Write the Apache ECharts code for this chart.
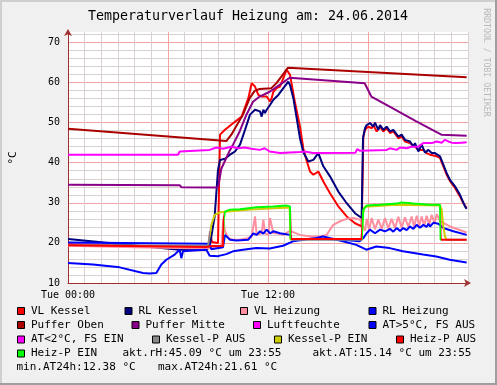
<!DOCTYPE html>
<html><head><meta charset="utf-8">
<script src="https://cdn.jsdelivr.net/npm/echarts@6/dist/echarts.min.js"></script>
<style>html,body{margin:0;padding:0;background:#f0f0f0}#c{width:497px;height:385px}</style>
</head><body><div id="c"></div>
<script>
// ---- data: [hour of day, value] ----
const vlKessel = [[0,19.6],[3.7,19.3],[6.6,19.0],[6.8,18.7],[8.3,18.6],[8.46,18.8],[8.52,22.8],[8.64,20.2],[9.0,20.0],[9.12,47.0],[9.42,48.2],[9.92,49.9],[10.42,51.5],[10.82,56.1],[11.02,59.8],[11.12,60.2],[11.22,59.0],[11.42,56.9],[11.62,56.5],[11.92,56.5],[12.12,55.3],[12.22,56.1],[12.32,57.7],[12.52,58.6],[12.72,59.0],[13.12,63.2],[13.22,63.6],[13.32,61.9],[13.62,55.0],[13.92,49.0],[14.12,43.5],[14.32,40.5],[14.52,37.8],[14.72,37.0],[15.02,37.8],[15.32,35.3],[15.72,32.4],[16.22,29.1],[16.72,26.6],[17.22,24.9],[17.62,24.1],[17.72,46.5],[17.82,48.2],[18.02,49.0],[18.22,48.6],[18.32,49.4],[18.52,47.8],[18.72,49.0],[18.92,47.8],[19.12,48.6],[19.32,47.4],[19.52,47.8],[19.82,46.1],[20.02,46.5],[20.22,45.3],[20.52,44.9],[20.82,44.0],[21.02,43.2],[21.32,43.2],[21.52,42.4],[21.72,42.0],[22.12,41.6],[22.32,41.2],[22.52,39.1],[22.72,37.0],[22.92,35.4],[23.22,33.7],[23.52,31.6],[23.72,29.9],[23.92,28.7]];
const rlKessel = [[0,21.0],[3.4,19.6],[6.7,18.3],[8.3,18.2],[8.5,19.1],[8.8,26.6],[9.0,38.2],[9.12,40.7],[9.42,41.0],[9.72,42.0],[10.02,42.8],[10.32,44.5],[10.62,48.2],[10.92,52.0],[11.22,53.2],[11.52,52.8],[11.62,51.5],[11.72,53.2],[11.82,52.4],[11.92,53.2],[12.12,54.4],[12.32,55.7],[12.62,56.9],[12.92,58.6],[13.22,60.2],[13.32,59.4],[13.52,56.1],[13.72,51.1],[13.92,46.1],[14.12,42.6],[14.42,40.3],[14.72,40.7],[15.02,42.4],[15.32,39.1],[15.72,36.6],[16.22,32.8],[16.72,29.9],[17.22,27.4],[17.62,26.2],[17.7,46.1],[17.82,48.6],[17.92,49.4],[18.12,49.9],[18.32,49.0],[18.42,50.0],[18.62,48.2],[18.72,49.4],[18.92,48.2],[19.12,49.0],[19.32,47.8],[19.52,48.2],[19.82,46.5],[20.02,47.0],[20.22,45.7],[20.52,45.3],[20.72,44.0],[20.82,44.9],[21.02,42.8],[21.22,44.5],[21.42,42.5],[21.62,43.2],[21.82,42.4],[22.02,42.4],[22.32,41.6],[22.52,39.5],[22.72,37.4],[22.92,35.7],[23.22,34.1],[23.52,32.0],[23.82,29.1],[23.92,28.5]];
const vlHeizung = [[0,19.3],[4,18.9],[8.3,18.6],[9.2,19.0],[9.32,25.8],[9.42,22.9],[9.62,21.2],[9.92,20.8],[10.32,20.8],[10.82,21.2],[11.02,21.6],[11.22,26.6],[11.32,22.0],[11.62,22.4],[11.72,25.8],[11.82,22.4],[12.02,22.0],[12.12,26.2],[12.32,22.4],[12.52,22.4],[12.92,22.0],[13.32,23.0],[13.92,22.0],[14.52,21.6],[15.12,21.6],[15.52,22.0],[15.72,23.3],[15.92,24.5],[16.32,25.4],[16.72,26.0],[17.12,26.2],[17.52,25.8],[17.72,24.0],[17.82,23.0],[17.92,26.0],[18.07,23.3],[18.22,26.2],[18.42,23.4],[18.62,25.8],[18.82,23.5],[19.02,26.2],[19.22,23.6],[19.42,26.0],[19.62,23.7],[19.82,26.5],[20.02,23.8],[20.22,26.4],[20.42,24.0],[20.62,26.6],[20.77,24.0],[20.92,26.8],[21.07,24.2],[21.22,26.6],[21.37,24.3],[21.52,26.8],[21.67,24.5],[21.82,27.0],[22.0,25.0],[22.12,27.2],[22.32,25.4],[22.92,24.1],[23.92,22.6]];
const rlHeizung = [[0,20.1],[8.3,19.8],[8.5,19.8],[8.6,18.4],[9.3,18.9],[9.42,22.0],[9.72,20.8],[10.12,20.6],[10.82,20.8],[11.12,22.4],[11.32,22.0],[11.52,22.9],[11.72,22.3],[11.92,23.3],[12.12,22.4],[12.32,22.9],[12.72,22.4],[13.32,22.0],[13.4,21.0],[14.5,21.0],[15.5,21.0],[16.5,20.8],[17.5,20.4],[17.72,21.2],[17.92,22.4],[18.12,23.3],[18.42,22.4],[18.72,23.3],[19.02,22.9],[19.32,23.5],[19.52,22.8],[19.72,23.7],[19.92,23.0],[20.12,23.7],[20.32,23.2],[20.52,24.1],[20.72,23.5],[20.92,24.5],[21.12,23.8],[21.32,24.5],[21.52,24.0],[21.62,24.8],[21.72,24.1],[21.92,25.0],[22.22,24.8],[22.52,23.7],[23.12,22.9],[23.92,22.0]];
const pufferOben = [[0,48.5],[9.5,45.4],[9.8,47.0],[10.5,52.0],[10.9,56.1],[11.2,57.9],[11.5,58.4],[12.2,58.6],[12.5,59.8],[13.2,63.7],[23.92,61.3]];
const pufferMitte = [[0,34.5],[6.7,34.4],[6.8,33.9],[9.0,33.8],[9.2,38.5],[9.7,43.0],[9.9,44.5],[10.3,47.8],[10.7,51.9],[11.1,55.2],[11.5,56.5],[12.1,57.7],[12.7,59.4],[13.3,61.2],[17.8,59.8],[18.2,56.5],[19.3,54.0],[20.9,50.3],[22.4,47.0],[23.92,46.7]];
const luftfeuchte = [[0,42.0],[6.6,42.0],[6.7,42.8],[8.5,43.2],[8.9,43.8],[9.3,43.5],[9.8,44.0],[10.2,43.6],[10.6,43.8],[11.0,43.5],[11.5,43.2],[11.8,43.6],[12.1,42.8],[12.72,42.4],[13.9,42.7],[14.2,42.8],[14.7,42.4],[17.25,42.5],[17.35,43.4],[17.5,43.0],[19.12,43.2],[19.32,43.6],[19.72,43.2],[19.92,43.8],[20.32,43.6],[20.62,44.0],[21.02,44.0],[21.32,44.9],[21.72,44.9],[21.92,45.0],[22.12,45.3],[22.42,45.0],[22.62,45.7],[22.82,45.3],[22.92,45.5],[23.02,45.0],[23.32,44.9],[23.62,45.0],[23.92,45.1]];
const aussenTemp = [[0,15.0],[1.5,14.6],[3.1,13.9],[4.5,12.5],[4.9,12.38],[5.3,12.5],[5.6,14.6],[5.9,15.8],[6.4,17.1],[6.7,18.3],[6.8,16.2],[6.9,17.9],[7.5,18.1],[8.3,18.3],[8.5,16.8],[9.0,16.7],[9.5,17.2],[9.9,17.9],[10.5,18.3],[11.3,18.7],[12.1,18.6],[12.9,19.3],[13.5,20.4],[14.1,20.8],[14.9,21.2],[15.3,21.61],[15.7,21.2],[16.5,20.4],[17.3,19.5],[17.9,18.3],[18.5,19.1],[19.3,18.7],[20.1,17.9],[21.3,17.1],[22.1,16.6],[22.9,15.8],[23.92,15.14]];
const kesselPumpe = [[0,19.5],[8.4,19.3],[8.45,19.6],[8.55,23.0],[8.6,24.5],[8.8,27.0],[9.1,27.6],[9.42,27.8],[10.9,28.3],[12.1,28.6],[13.3,28.8],[13.36,20.8],[17.62,20.8],[17.7,27.5],[17.8,29.0],[19.7,29.5],[22.32,29.3],[22.42,28.3],[22.52,24.1],[22.62,21.6],[22.72,20.8],[23.92,20.8]];
const kesselPumpeEin = [[8.55,13.36],[17.66,22.72]];
const heizPumpe = [[0,19.4],[8.3,19.0],[8.6,19.2],[9.3,19.2],[9.34,25.8],[9.42,27.8],[9.72,28.3],[10.32,28.4],[11.32,28.9],[12.32,29.1],[13.12,29.3],[13.32,29.1],[13.36,21.0],[17.62,21.0],[17.72,28.3],[17.92,29.3],[18.72,29.5],[19.72,29.8],[20.02,30.1],[20.72,29.8],[21.72,29.5],[22.32,29.5],[22.36,20.8],[23.92,20.8]];
const heizPumpeEin = [[9.34,13.37],[17.66,22.37]];
const xTickLabels = {0:'Tue 00:00', 12:'Tue 12:00'};
const titleText = 'Temperaturverlauf Heizung am: 24.06.2014';
const legendItems = [
  ['VL Kessel','#ff0000'],['RL Kessel','#000080'],['VL Heizung','#ff8fa0'],['RL Heizung','#0000ff'],
  ['Puffer Oben','#aa0000'],['Puffer Mitte','#880088'],['Luftfeuchte','#ff00ff'],['AT>5°C, FS AUS','#0000ff'],
  ['AT<2°C, FS EIN','#ff00ff'],['Kessel-P AUS','#888888'],['Kessel-P EIN','#cccc00'],['Heiz-P AUS','#ff0000'],
  ['Heiz-P EIN','#00ff00']];
const statTexts = ['akt.rH:45.09 °C um 23:55','akt.AT:15.14 °C um 23:55','min.AT24h:12.38 °C','max.AT24h:21.61 °C'];

// ---- layout ----
const rowY = [311, 325, 339.5, 353.5, 367.5];
const legendPos = [[31,0],[138.5,0],[254,0],[382.5,0],[31,1],[145.5,1],[267,1],[382.5,1],[31,2],[166,2],[288,2],[410,2],[31,3]];
const statPos = [[122.5,3],[312.5,3],[16.5,4],[158,4]];
const MONO = '"DejaVu Sans Mono", monospace';
const col = Object.fromEntries(legendItems);

function pieces(onIntervals, offColor, onColor){
  const p=[]; let prev=-1;
  onIntervals.forEach(([a,b])=>{ p.push({gte:prev,lt:a,color:offColor}); p.push({gte:a,lt:b,color:onColor}); prev=b; });
  p.push({gte:prev,lte:100,color:offColor});
  return p;
}
function ln(name,data,color){
  const s={type:'line',name,data,symbol:'none',showSymbol:false,animation:false,silent:true,lineStyle:{width:2}};
  if(color){s.lineStyle.color=color;s.itemStyle={color};}
  return s;
}
const series=[
  ln('VL Kessel',vlKessel,col['VL Kessel']),
  ln('RL Kessel',rlKessel,col['RL Kessel']),
  ln('VL Heizung',vlHeizung,col['VL Heizung']),
  ln('RL Heizung',rlHeizung,col['RL Heizung']),
  ln('Puffer Oben',pufferOben,col['Puffer Oben']),
  ln('Puffer Mitte',pufferMitte,col['Puffer Mitte']),
  ln('Luftfeuchte',luftfeuchte,col['Luftfeuchte']),
  ln('AT',aussenTemp,col['AT>5°C, FS AUS']),
  ln('Kessel-P',kesselPumpe,null),
  ln('Heiz-P',heizPumpe,null)
];

const graphic=[
  {type:'rect',shape:{x:0,y:0,width:497,height:2},style:{fill:'#cfcfcf'},silent:true},
  {type:'rect',shape:{x:0,y:0,width:2,height:385},style:{fill:'#cfcfcf'},silent:true},
  {type:'rect',shape:{x:0,y:383,width:497,height:2},style:{fill:'#9e9e9e'},silent:true},
  {type:'rect',shape:{x:495,y:0,width:2,height:385},style:{fill:'#9e9e9e'},silent:true},
  {type:'text',x:248,y:16.5,style:{text:titleText,font:'13.3px '+MONO,fill:'#000',align:'center',verticalAlign:'middle'}},
  {type:'text',x:13,y:158,rotation:Math.PI/2,style:{text:'°C',font:'11px '+MONO,fill:'#000',align:'center',verticalAlign:'middle'}},
  {type:'text',x:486.5,y:62.5,rotation:-Math.PI/2,style:{text:'RRDTOOL / TOBI OETIKER',font:'8.2px '+MONO,fill:'#b8b8b8',align:'center',verticalAlign:'middle'}}
];
legendItems.forEach(([name,c],i)=>{
  const [tx,r]=legendPos[i]; const cy=rowY[r];
  graphic.push({type:'rect',shape:{x:tx-13.5,y:cy-3.5,width:7,height:7},style:{fill:c,stroke:'#000',lineWidth:1}});
  graphic.push({type:'text',x:tx,y:cy,style:{text:name,font:'11px '+MONO,fill:'#000',align:'left',verticalAlign:'middle'}});
});
statTexts.forEach((t,i)=>{
  const [tx,r]=statPos[i];
  graphic.push({type:'text',x:tx,y:rowY[r],style:{text:t,font:'11px '+MONO,fill:'#000',align:'left',verticalAlign:'middle'}});
});

const axisCol='#a03030', minorCol='#dad2d2', majorCol='#f3a3a3';
const YMIN=10, YMAX=72.6;
const chart=echarts.init(document.getElementById('c'),null,{renderer:'canvas'});
chart.setOption({
  backgroundColor:'#f0f0f0',
  animation:false,
  grid:{left:68,top:32,width:400,bottom:102,show:true,backgroundColor:'#ffffff',borderWidth:0,containLabel:false,outerBoundsMode:'none'},
  xAxis:[
    {type:'value',min:0,max:24,interval:1,position:'bottom',axisLine:{show:false},axisTick:{show:false},axisLabel:{show:false},
     splitLine:{show:true,showMinLine:false,lineStyle:{color:minorCol,width:1}}},
    {type:'value',min:0,max:24,interval:6,position:'bottom',
     axisLine:{show:true,onZero:false,symbol:['none','arrow'],symbolSize:[6,7],symbolOffset:[0,3],lineStyle:{color:axisCol,width:1}},
     axisTick:{show:false},
     axisLabel:{show:true,margin:7,color:'#000',fontFamily:MONO,fontSize:10,formatter:v=>xTickLabels[v]||''},
     splitLine:{show:true,showMinLine:false,showMaxLine:false,lineStyle:{color:majorCol,width:1}}}
  ],
  yAxis:[
    {type:'value',min:YMIN,max:YMAX,interval:2,position:'left',axisLine:{show:false},axisTick:{show:false},axisLabel:{show:false},
     splitLine:{show:true,showMinLine:false,showMaxLine:false,lineStyle:{color:minorCol,width:1}}},
    {type:'value',min:YMIN,max:YMAX,interval:10,position:'left',
     axisLine:{show:true,onZero:false,symbol:['none','arrow'],symbolSize:[6,7],symbolOffset:[0,3],lineStyle:{color:axisCol,width:1}},
     axisTick:{show:false},
     axisLabel:{show:true,margin:8,color:'#000',fontFamily:MONO,fontSize:10,formatter:v=>(Math.abs(v%10)<1e-6?String(v):'')},
     splitLine:{show:true,showMinLine:false,showMaxLine:false,lineStyle:{color:majorCol,width:1}}}
  ],
  visualMap:[
    {type:'piecewise',show:false,dimension:0,seriesIndex:8,pieces:pieces(kesselPumpeEin,col['Kessel-P AUS'],col['Kessel-P EIN'])},
    {type:'piecewise',show:false,dimension:0,seriesIndex:9,pieces:pieces(heizPumpeEin,col['Heiz-P AUS'],col['Heiz-P EIN'])}
  ],
  series,
  graphic
});
</script></body></html>
